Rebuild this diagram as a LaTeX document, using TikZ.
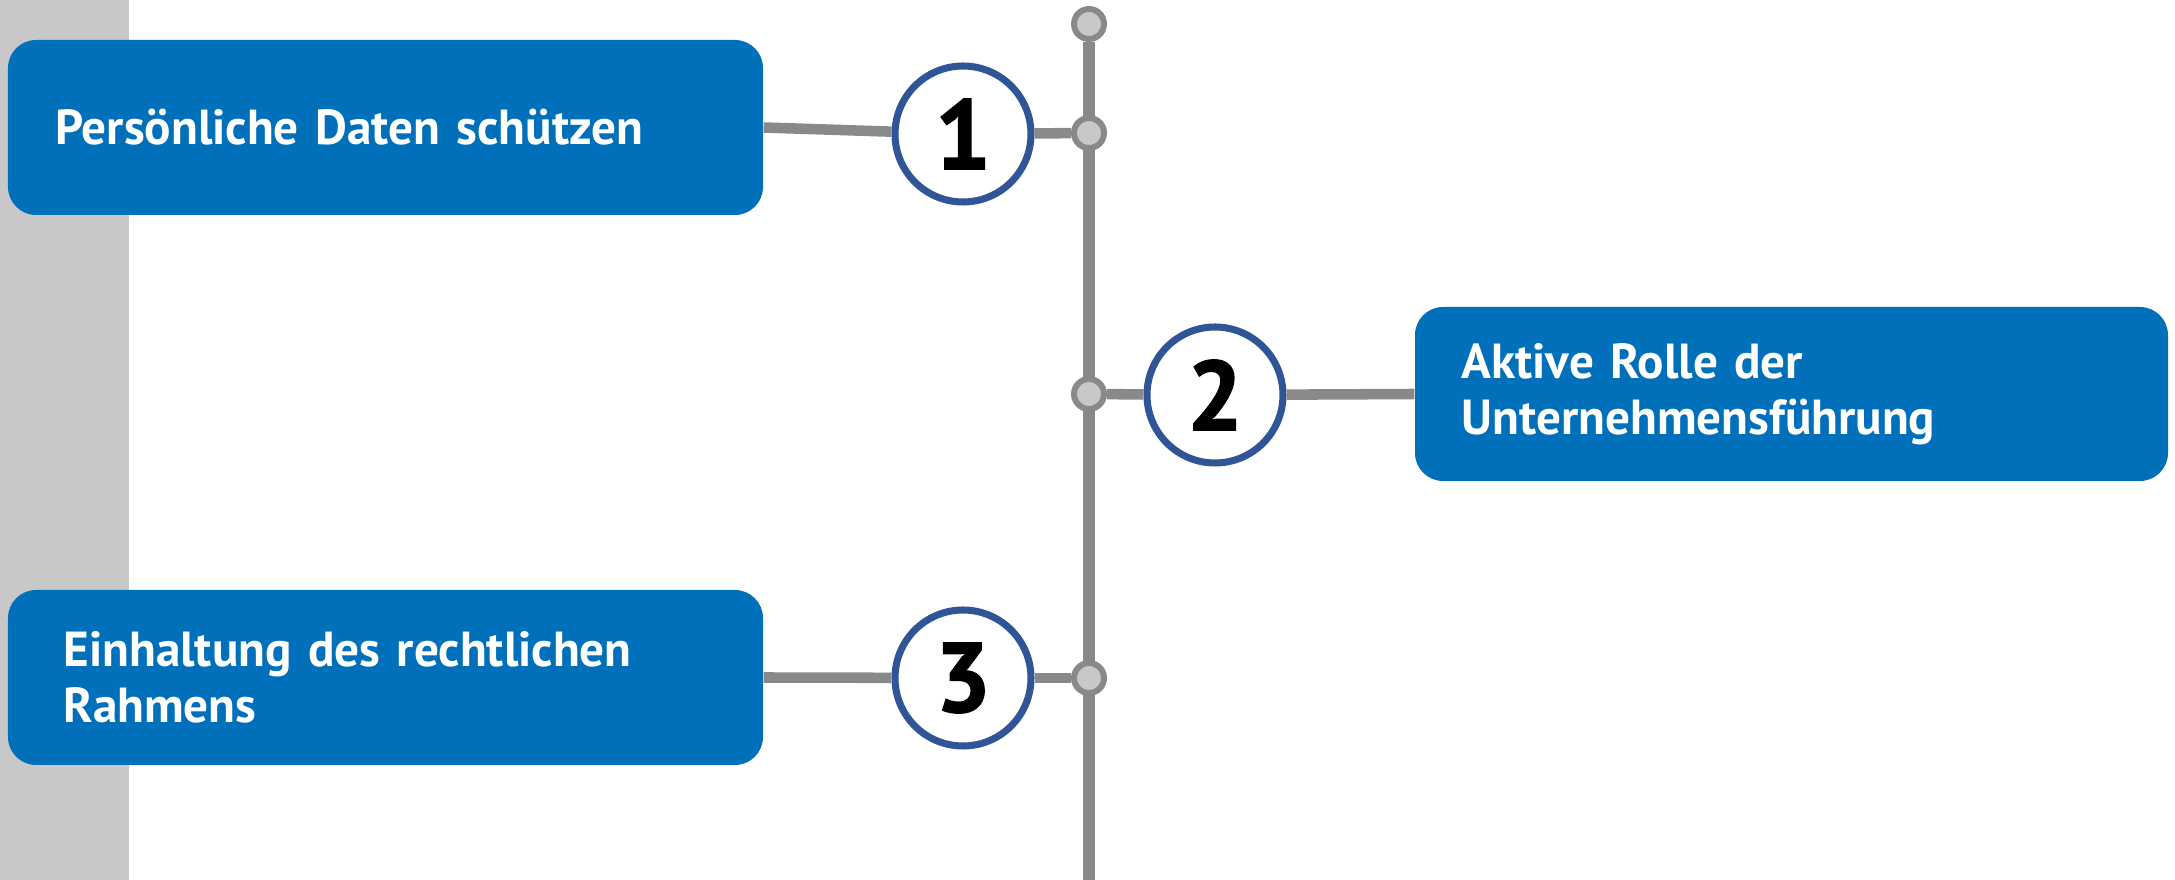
\documentclass[tikz,border=0pt]{standalone}
\usepackage{fontspec}
\setmainfont{PT Sans}
\newfontfamily\numfont{PT Sans}[BoldFeatures={FakeBold=1.6}]
\usetikzlibrary{positioning}
\definecolor{boxblue}{HTML}{0070BA}
\definecolor{ringblue}{HTML}{2F5597}
\definecolor{linegray}{HTML}{898989}
\definecolor{dotgray}{HTML}{C8C8C8}
\begin{document}
\begin{tikzpicture}[
   topic/.style={fill=boxblue,rounded corners=0.28cm,minimum width=7.55cm,minimum height=1.75cm,
      text width=6.6cm,align=left,text=white,font=\fontsize{14}{15.8}\selectfont\bfseries},
   numring/.style={circle,draw=ringblue,line width=2pt,fill=white,minimum size=1.36cm,inner sep=0pt,
      font=\fontsize{28}{28}\selectfont\numfont\bfseries},
   stop/.style={circle,draw=linegray,line width=1.7pt,fill=dotgray,minimum size=0.3cm,inner sep=0pt},
   link/.style={draw=linegray,line width=3pt}]
   \useasboundingbox (0,0) rectangle (21.75,8.8);
   % Randstreifen
   \fill[dotgray] (0,0) rectangle (1.29,8.8);

   % Zeitachse
   \coordinate (axisend) at (10.89,0);
   \node[stop] (dot0) at (10.89,8.56) {};
   \draw[link,line width=3.3pt] (dot0) -- (axisend);
   \node[stop] (dot1) at (10.89,7.47) {};
   \node[stop] (dot2) at (10.89,4.86) {};
   \node[stop] (dot3) at (10.89,2.02) {};

   \node[topic] (box1) at (3.855,7.525) {Persönliche Daten schützen};
   \node[numring] (num1) at (9.63,7.46) {1};
   \draw[link] (box1.east) -- (num1);
   \draw[link] (num1) -- (dot1);

   \node[numring] (num2) at (12.15,4.85) {2};
   \node[topic,minimum width=7.53cm,minimum height=1.74cm] (box2) at (17.915,4.86) {Aktive Rolle der\\Unternehmensführung};
   \draw[link] (dot2) -- (num2);
   \draw[link] (num2) -- (box2.west);

   \node[topic] (box3) at (3.855,2.025) {\hspace*{0.08cm}Einhaltung des rechtlichen\\\hspace*{0.08cm}Rahmens};
   \node[numring] (num3) at (9.63,2.02) {3};
   \draw[link] (box3.east) -- (num3);
   \draw[link] (num3) -- (dot3);
\end{tikzpicture}
\end{document}
